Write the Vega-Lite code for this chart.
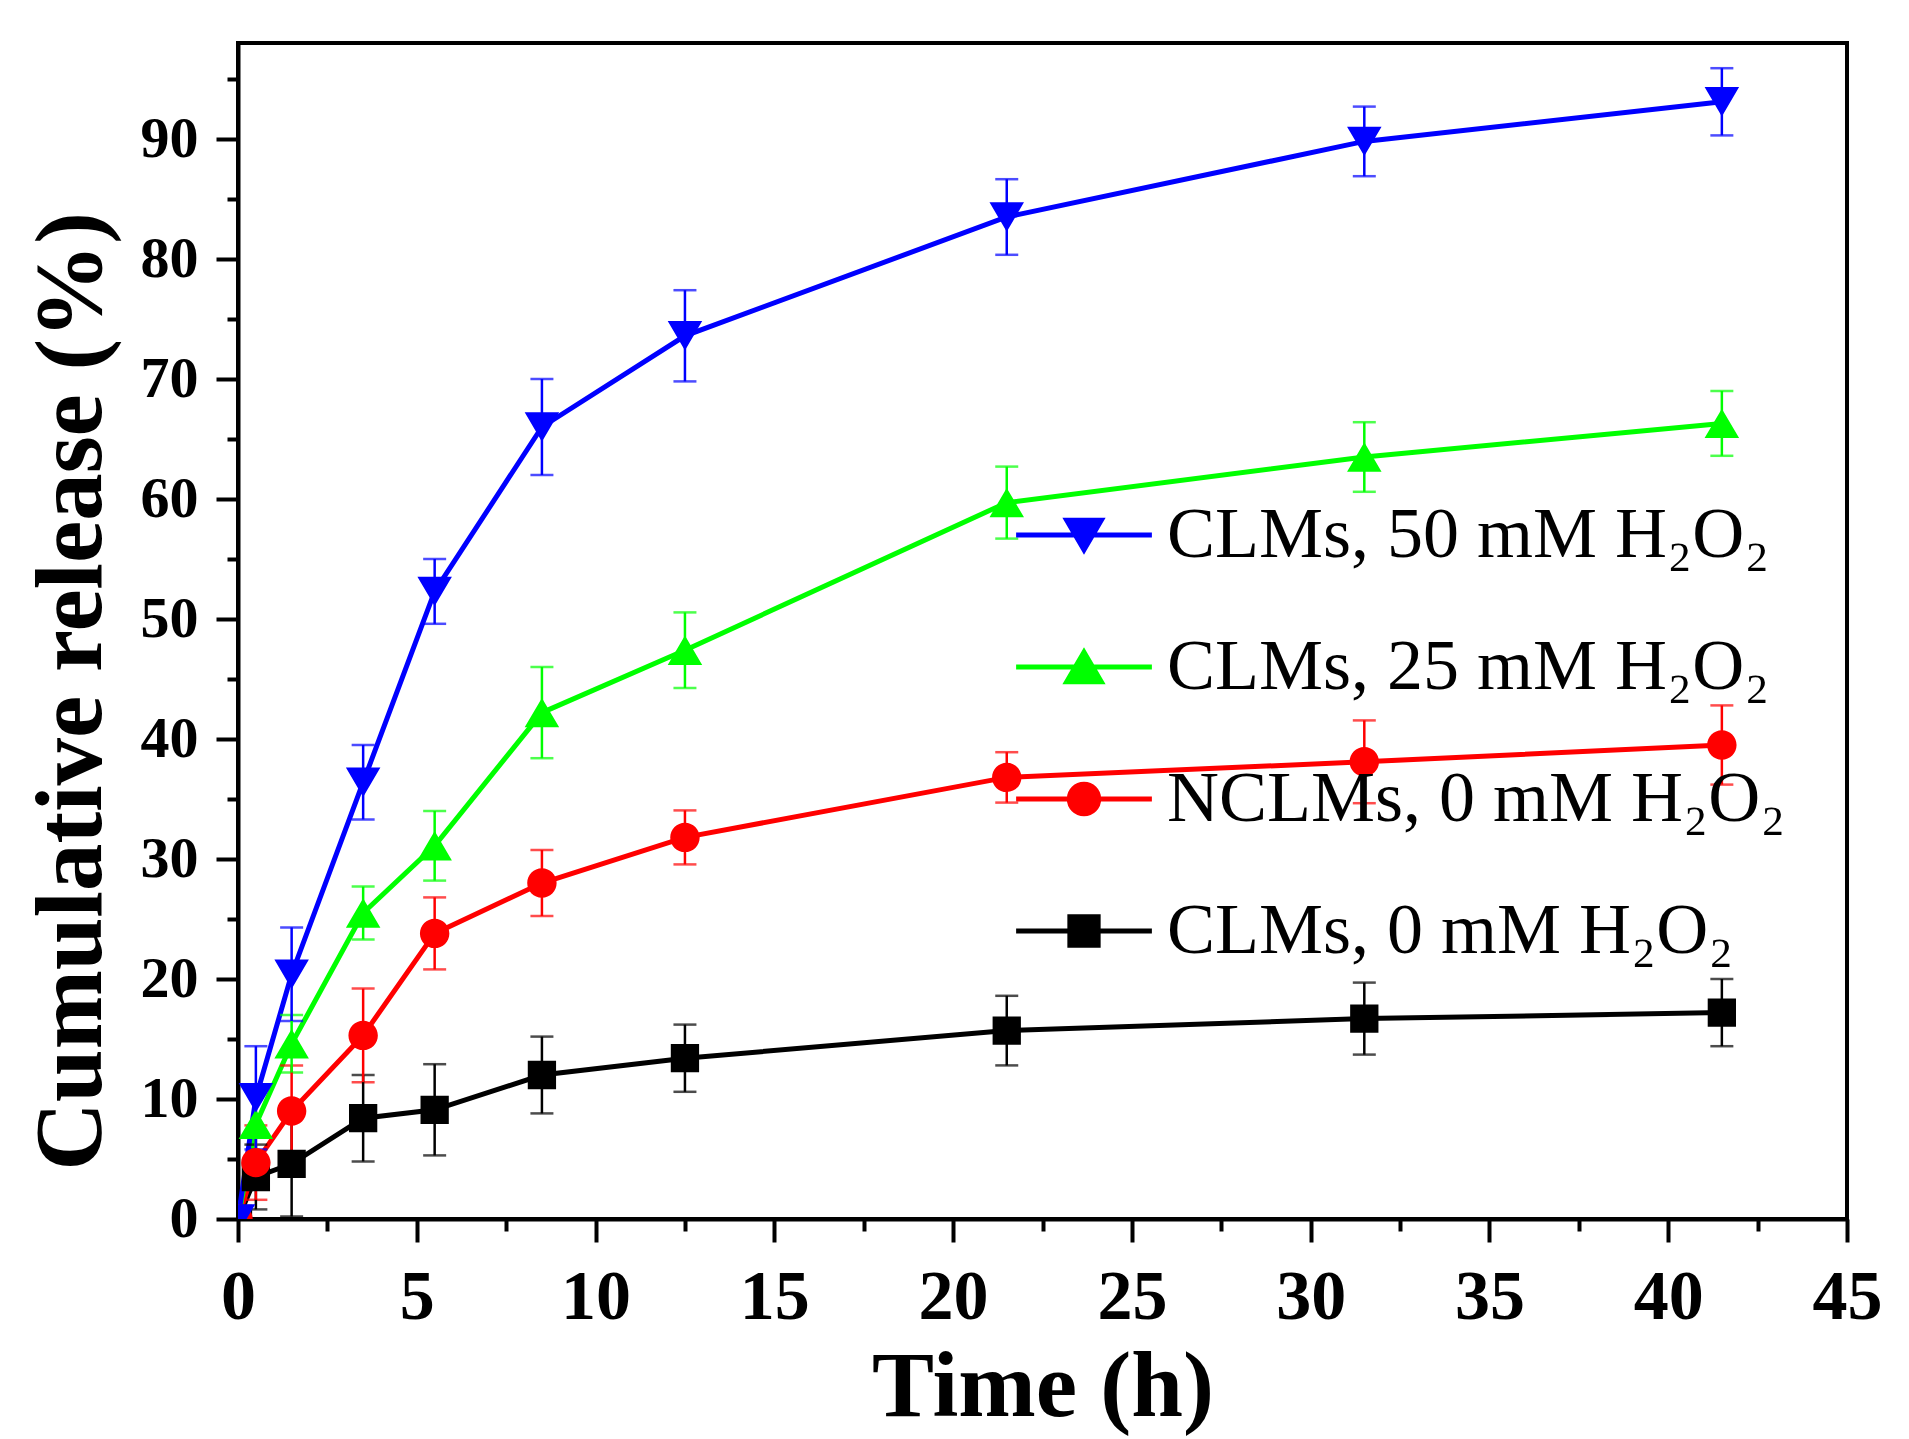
{
  "$schema": "https://vega.github.io/schema/vega-lite/v6.json",
  "width": 1609,
  "height": 1176,
  "autosize": {"type": "none"},
  "padding": {"left": 238, "top": 43, "right": 62, "bottom": 220},
  "background": "white",
  "config": {
    "view": {"stroke": "black", "strokeWidth": 4},
    "axis": {
      "domainColor": "black",
      "domainWidth": 4,
      "tickColor": "black",
      "tickWidth": 4,
      "grid": false,
      "labelFont": "Liberation Serif",
      "labelFontWeight": "bold",
      "labelColor": "black",
      "labelOverlap": false,
      "labelFlush": false,
      "titleFont": "Liberation Serif",
      "titleFontWeight": "bold",
      "titleColor": "black",
      "titleFontSize": 93
    },
    "legend": {
      "orient": "top-right",
      "offset": 61,
      "padding": 0,
      "titleFontSize": 8,
      "titlePadding": 387,
      "labelFont": "Liberation Serif",
      "labelFontSize": 72,
      "labelColor": "black",
      "labelOffset": 47,
      "labelLimit": 1200,
      "symbolSize": 800,
      "symbolStrokeWidth": 5,
      "rowPadding": 60
    }
  },
  "data": {
    "values": [
      {"s": "CLMs, 0 mM H₂O₂", "t": 0, "v": 0, "e": 0},
      {"s": "CLMs, 0 mM H₂O₂", "t": 0.5, "v": 3.5, "e": 2.7},
      {"s": "CLMs, 0 mM H₂O₂", "t": 1.5, "v": 4.6, "e": 4.4},
      {"s": "CLMs, 0 mM H₂O₂", "t": 3.5, "v": 8.4, "e": 3.6},
      {"s": "CLMs, 0 mM H₂O₂", "t": 5.5, "v": 9.1, "e": 3.8},
      {"s": "CLMs, 0 mM H₂O₂", "t": 8.5, "v": 12.0, "e": 3.2},
      {"s": "CLMs, 0 mM H₂O₂", "t": 12.5, "v": 13.4, "e": 2.8},
      {"s": "CLMs, 0 mM H₂O₂", "t": 21.5, "v": 15.7, "e": 2.9},
      {"s": "CLMs, 0 mM H₂O₂", "t": 31.5, "v": 16.7, "e": 3.0},
      {"s": "CLMs, 0 mM H₂O₂", "t": 41.5, "v": 17.2, "e": 2.8},
      {"s": "NCLMs, 0 mM H₂O₂", "t": 0, "v": 0, "e": 0},
      {"s": "NCLMs, 0 mM H₂O₂", "t": 0.5, "v": 4.7, "e": 3.1},
      {"s": "NCLMs, 0 mM H₂O₂", "t": 1.5, "v": 9.0, "e": 3.8},
      {"s": "NCLMs, 0 mM H₂O₂", "t": 3.5, "v": 15.3, "e": 3.9},
      {"s": "NCLMs, 0 mM H₂O₂", "t": 5.5, "v": 23.8, "e": 3.0},
      {"s": "NCLMs, 0 mM H₂O₂", "t": 8.5, "v": 28.0, "e": 2.75},
      {"s": "NCLMs, 0 mM H₂O₂", "t": 12.5, "v": 31.8, "e": 2.25},
      {"s": "NCLMs, 0 mM H₂O₂", "t": 21.5, "v": 36.8, "e": 2.1},
      {"s": "NCLMs, 0 mM H₂O₂", "t": 31.5, "v": 38.1, "e": 3.45},
      {"s": "NCLMs, 0 mM H₂O₂", "t": 41.5, "v": 39.5, "e": 3.3},
      {"s": "CLMs, 25 mM H₂O₂", "t": 0, "v": 0, "e": 0},
      {"s": "CLMs, 25 mM H₂O₂", "t": 0.5, "v": 7.9, "e": 3.3},
      {"s": "CLMs, 25 mM H₂O₂", "t": 1.5, "v": 14.6, "e": 2.4},
      {"s": "CLMs, 25 mM H₂O₂", "t": 3.5, "v": 25.5, "e": 2.2},
      {"s": "CLMs, 25 mM H₂O₂", "t": 5.5, "v": 31.1, "e": 2.9},
      {"s": "CLMs, 25 mM H₂O₂", "t": 8.5, "v": 42.2, "e": 3.8},
      {"s": "CLMs, 25 mM H₂O₂", "t": 12.5, "v": 47.4, "e": 3.15},
      {"s": "CLMs, 25 mM H₂O₂", "t": 21.5, "v": 59.7, "e": 3.0},
      {"s": "CLMs, 25 mM H₂O₂", "t": 31.5, "v": 63.5, "e": 2.9},
      {"s": "CLMs, 25 mM H₂O₂", "t": 41.5, "v": 66.3, "e": 2.7},
      {"s": "CLMs, 50 mM H₂O₂", "t": 0, "v": 0, "e": 0},
      {"s": "CLMs, 50 mM H₂O₂", "t": 0.5, "v": 10.1, "e": 4.3},
      {"s": "CLMs, 50 mM H₂O₂", "t": 1.5, "v": 20.4, "e": 3.9},
      {"s": "CLMs, 50 mM H₂O₂", "t": 3.5, "v": 36.4, "e": 3.1},
      {"s": "CLMs, 50 mM H₂O₂", "t": 5.5, "v": 52.3, "e": 2.7},
      {"s": "CLMs, 50 mM H₂O₂", "t": 8.5, "v": 66.0, "e": 4.0},
      {"s": "CLMs, 50 mM H₂O₂", "t": 12.5, "v": 73.6, "e": 3.8},
      {"s": "CLMs, 50 mM H₂O₂", "t": 21.5, "v": 83.5, "e": 3.15},
      {"s": "CLMs, 50 mM H₂O₂", "t": 31.5, "v": 89.8, "e": 2.9},
      {"s": "CLMs, 50 mM H₂O₂", "t": 41.5, "v": 93.1, "e": 2.8}
    ]
  },
  "encoding": {
    "x": {
      "field": "t",
      "type": "quantitative",
      "scale": {"domain": [0, 45], "nice": false},
      "axis": {
        "title": "Time (h)",
        "values": [0, 2.5, 5, 7.5, 10, 12.5, 15, 17.5, 20, 22.5, 25, 27.5, 30, 32.5, 35, 37.5, 40, 42.5, 45],
        "labelExpr": "datum.value % 5 === 0 ? '' + datum.value : ''",
        "labelFontSize": 70,
        "labelPadding": 21,
        "tickSize": {"condition": {"test": "datum.value % 5 === 0", "value": 23}, "value": 12},
        "titleBaseline": "alphabetic",
        "titleY": 196
      }
    },
    "y": {
      "field": "v",
      "type": "quantitative",
      "scale": {"domain": [0, 98], "nice": false},
      "axis": {
        "title": "Cumulative release (%)",
        "values": [0, 5, 10, 15, 20, 25, 30, 35, 40, 45, 50, 55, 60, 65, 70, 75, 80, 85, 90, 95],
        "labelExpr": "datum.value % 10 === 0 ? '' + datum.value : ''",
        "labelFontSize": 58,
        "labelPadding": 18,
        "tickSize": {"condition": {"test": "datum.value % 10 === 0", "value": 22}, "value": 11},
        "titleAngle": 270,
        "titleFontSize": 95,
        "titleBaseline": "alphabetic",
        "titleX": -138,
        "titleY": 648
      }
    }
  },
  "layer": [
    {
      "mark": {"type": "line", "strokeWidth": 5, "clip": true},
      "encoding": {
        "color": {
          "field": "s",
          "type": "nominal",
          "scale": {
            "domain": ["CLMs, 0 mM H₂O₂", "NCLMs, 0 mM H₂O₂", "CLMs, 25 mM H₂O₂", "CLMs, 50 mM H₂O₂"],
            "range": ["#000000", "#ff0000", "#00ff00", "#0000ff"]
          },
          "legend": null
        }
      }
    },
    {
      "transform": [{"filter": "datum.e > 0"}],
      "mark": {"type": "errorbar", "ticks": true, "size": 23, "thickness": 2.5, "clip": true},
      "encoding": {
        "yError": {"field": "e"},
        "color": {
          "field": "s",
          "type": "nominal",
          "scale": {
            "domain": ["CLMs, 0 mM H₂O₂", "NCLMs, 0 mM H₂O₂", "CLMs, 25 mM H₂O₂", "CLMs, 50 mM H₂O₂"],
            "range": ["#000000", "#ff0000", "#00ff00", "#0000ff"]
          },
          "legend": null
        }
      }
    },
    {
      "mark": {"type": "point", "filled": true, "size": 800, "opacity": 1, "clip": true},
      "encoding": {
        "strokeWidth": {"value": 0},
        "fill": {
          "field": "s",
          "type": "nominal",
          "scale": {
            "domain": ["CLMs, 50 mM H₂O₂", "CLMs, 25 mM H₂O₂", "NCLMs, 0 mM H₂O₂", "CLMs, 0 mM H₂O₂"],
            "range": ["#0000ff", "#00ff00", "#ff0000", "#000000"]
          },
          "legend": {"title": " "}
        },
        "stroke": {
          "field": "s",
          "type": "nominal",
          "scale": {
            "domain": ["CLMs, 50 mM H₂O₂", "CLMs, 25 mM H₂O₂", "NCLMs, 0 mM H₂O₂", "CLMs, 0 mM H₂O₂"],
            "range": ["#0000ff", "#00ff00", "#ff0000", "#000000"]
          },
          "legend": {"title": " "}
        },
        "shape": {
          "field": "s",
          "type": "nominal",
          "scale": {
            "domain": ["CLMs, 50 mM H₂O₂", "CLMs, 25 mM H₂O₂", "NCLMs, 0 mM H₂O₂", "CLMs, 0 mM H₂O₂"],
            "range": [
              "M-4.8,0H-0.61M0.61,0H4.8M0,1.04L1.22,-1.04L-1.22,-1.04Z",
              "M-4.8,0H-0.61M0.61,0H4.8M0,-1.04L1.22,1.04L-1.22,1.04Z",
              "M-4.8,0H-1.04M1.04,0H4.8M-1.04,0A1.04,1.04 0 1,1 1.04,0A1.04,1.04 0 1,1 -1.04,0Z",
              "M-4.8,0H-1M1,0H4.8M-1,-1H1V1H-1Z"
            ]
          },
          "legend": {"title": " "}
        }
      }
    }
  ]
}
